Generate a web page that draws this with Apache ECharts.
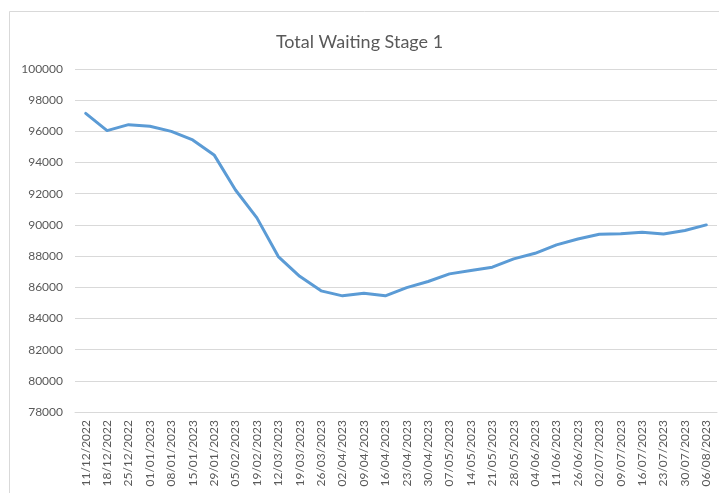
<!DOCTYPE html>
<html>
<head>
<meta charset="utf-8">
<script src="https://cdn.jsdelivr.net/npm/echarts@6/dist/echarts.min.js"></script>
<style>html,body{margin:0;padding:0;background:#fff;}#c{width:719px;height:493px;}</style>
</head>
<body>
<div id="c"></div>
<script>
const categories = ["11/12/2022","18/12/2022","25/12/2022","01/01/2023","08/01/2023","15/01/2023","29/01/2023","05/02/2023","19/02/2023","12/03/2023","19/03/2023","26/03/2023","02/04/2023","09/04/2023","16/04/2023","23/04/2023","30/04/2023","07/05/2023","14/05/2023","21/05/2023","28/05/2023","04/06/2023","11/06/2023","26/06/2023","02/07/2023","09/07/2023","16/07/2023","23/07/2023","30/07/2023","06/08/2023"];
const totalWaiting = [97150,96050,96430,96330,96000,95450,94490,92240,90450,87970,86700,85770,85450,85620,85450,85980,86370,86860,87070,87290,87820,88180,88720,89100,89400,89440,89530,89420,89640,90000];
const yMin = 78000, yMax = 100000, yStep = 2000;
const title = "Total Waiting Stage 1";

const chart = echarts.init(document.getElementById('c'), null, {renderer:'canvas'});
chart.setOption({
  backgroundColor:'#ffffff',
  animation:false,
  graphic:[{type:'rect', shape:{x:9.5,y:11.5,width:720,height:500}, style:{fill:'none', stroke:'#d9d9d9', lineWidth:1}, silent:true}],
  title:{text:title, left:'center', top:28, textStyle:{fontFamily:'Lato', fontSize:18, fontWeight:'normal', color:'#595959'}},
  grid:{left:75, right:2, top:69, bottom:81},
  xAxis:{type:'category', data:categories, boundaryGap:true,
    axisLine:{lineStyle:{color:'#d9d9d9', width:1}}, axisTick:{show:false},
    axisLabel:{rotate:90, interval:0, margin:8, fontFamily:'Lato', fontSize:12, color:'#595959'}},
  yAxis:{type:'value', min:yMin, max:yMax, interval:yStep,
    axisLine:{show:false}, axisTick:{show:false},
    splitLine:{lineStyle:{color:'#d9d9d9', width:1}},
    axisLabel:{margin:12, fontFamily:'Lato', fontSize:12, color:'#595959', formatter:function(v){return String(v);}}},
  series:[{type:'line', data:totalWaiting, showSymbol:false, symbol:'none', smooth:false,
    lineStyle:{color:'#5B9BD5', width:3, cap:'round', join:'round'}}]
});
</script>
</body>
</html>
